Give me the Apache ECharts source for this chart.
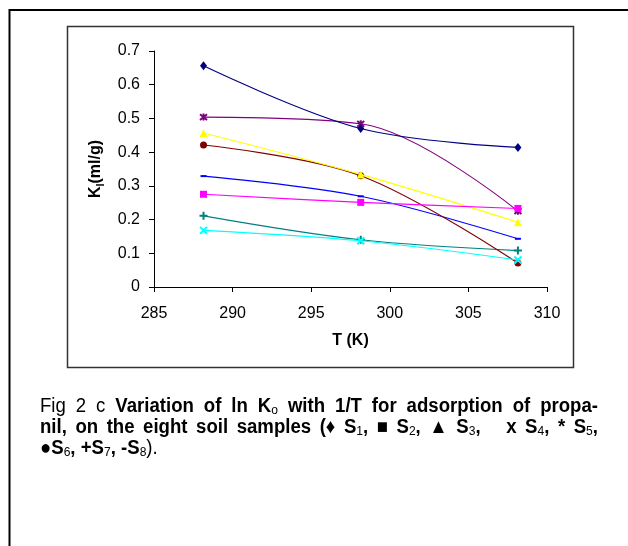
<!DOCTYPE html>
<html><head><meta charset="utf-8">
<script src="https://cdn.jsdelivr.net/npm/echarts@6/dist/echarts.min.js"></script>
<style>html,body{margin:0;padding:0;background:#fff}#c{width:628px;height:546px}</style>
</head><body><div id="c"></div>
<script>
// ---- data ----
const temperatures = [288.15, 298.15, 308.15];
const sampleNames = ['S1', 'S2', 'S3', 'S4', 'S5', 'S6', 'S7', 'S8'];
const S1 = [0.656, 0.470, 0.414];
const S2 = [0.275, 0.251, 0.233];
const S3 = [0.457, 0.334, 0.192];
const S4 = [0.168, 0.137, 0.080];
const S5 = [0.504, 0.484, 0.225];
const S6 = [0.421, 0.330, 0.071];
const S7 = [0.211, 0.140, 0.108];
const S8 = [0.329, 0.269, 0.143];
const xTickValues = [285, 290, 295, 300, 305, 310];
const yTickValues = [0, 0.1, 0.2, 0.3, 0.4, 0.5, 0.6, 0.7];
const sampleValues = [S1, S2, S3, S4, S5, S6, S7, S8];

// ---- styles ----
const FONT = "'Liberation Sans', Arial, 'DejaVu Sans', sans-serif";
const colors = ['#000080', '#FF00FF', '#FFFF00', '#00FFFF', '#800080', '#800000', '#008080', '#0000FF'];
const symbols = [
  {symbol: 'diamond', size: [7, 9]},
  {symbol: 'rect', size: 7},
  {symbol: 'triangle', size: 8},
  {symbol: 'path://M0,0L10,10M10,0L0,10', size: 7, stroke: true},
  {symbol: 'path://M0,0L10,10M10,0L0,10M5,-1L5,11', size: 7, stroke: true},
  {symbol: 'circle', size: 7},
  {symbol: 'path://M5,0L5,10M0,5L10,5', size: 8, stroke: true},
  {symbol: 'rect', size: [6, 2]}
];

const series = sampleNames.map((name, i) => {
  const s = symbols[i];
  return {
    name: name,
    type: 'line',
    smooth: 0.35,
    data: temperatures.map((t, j) => [t, sampleValues[i][j]]),
    symbol: s.symbol,
    symbolSize: s.size,
    showAllSymbol: true,
    lineStyle: {color: colors[i], width: 1.1},
    itemStyle: s.stroke
      ? {color: 'rgba(0,0,0,0)', borderColor: colors[i], borderWidth: 2}
      : {color: colors[i], borderWidth: 0},
    z: 10 - i
  };
});

// ---- caption (condensed + justified) ----
const cap = {
  n: {fontSize: 20, fontWeight: 'normal', lineHeight: 22},
  b: {fontSize: 20, fontWeight: 'bold', lineHeight: 22},
  s: {fontSize: 13, fontWeight: 'normal', lineHeight: 14, verticalAlign: 'bottom'}
};
const captionLines = [
  [['n', 'Fig 2 c '], ['b', 'Variation of ln K'], ['s', 'o'], ['b', ' with 1/T for adsorption of propa-']],
  [['b', 'nil, on the eight soil samples (\u2666 S'], ['s', '1'], ['b', ', \u25A0 S'], ['s', '2'], ['b', ', \u25B2 S'], ['s', '3'], ['b', ',   x S'], ['s', '4'], ['b', ', * S'], ['s', '5'], ['b', ',']],
  [['b', '\u25CFS'], ['s', '6'], ['b', ', +S'], ['s', '7'], ['b', ', -S'], ['s', '8'], ['n', ').']]
];
const justify = [true, true, false];
const condense = 0.93;
const mctx = document.createElement('canvas').getContext('2d');
function measure(k, t) {
  mctx.font = cap[k].fontWeight + ' ' + cap[k].fontSize + 'px ' + FONT;
  return mctx.measureText(t).width;
}
const capLeft = 40, capRight = 598;
const capY = [406, 427, 448];
const captionGraphics = captionLines.map((line, i) => {
  let total = 0, nSpaces = 0;
  line.forEach(([k, t]) => {
    total += measure(k, t);
    nSpaces += (t.match(/ /g) || []).length;
  });
  const extra = justify[i] && nSpaces ? Math.max(0, ((capRight - capLeft) / condense - total) / nSpaces) : 0;
  const rich = {};
  Object.entries(cap).forEach(([k, v]) => {
    rich[k] = Object.assign({fontFamily: FONT, fill: '#000'}, v);
    rich[k + 'g'] = Object.assign({fontFamily: FONT, fill: '#000'}, v, {width: measure(k, ' ') + extra});
  });
  let text = '';
  line.forEach(([k, t]) => {
    t.split(/( )/).forEach(part => {
      if (part === '') return;
      if (part === ' ') text += '{' + k + 'g| }';
      else text += '{' + k + '|' + part + '}';
    });
  });
  return {
    type: 'text',
    x: capLeft,
    y: capY[i],
    scaleX: condense,
    style: {text: text, rich: rich, fontFamily: FONT, fill: '#000', verticalAlign: 'middle', align: 'left'},
    silent: true
  };
});

const chart = echarts.init(document.getElementById('c'), null, {renderer: 'canvas'});
chart.setOption({
  animation: false,
  backgroundColor: '#fff',
  grid: {left: 154, top: 51, right: 81, bottom: 259, containLabel: false},
  xAxis: {
    type: 'value',
    min: xTickValues[0],
    max: xTickValues[xTickValues.length - 1],
    interval: xTickValues[1] - xTickValues[0],
    name: 'T (K)',
    nameLocation: 'middle',
    nameGap: 46,
    nameTextStyle: {fontFamily: FONT, fontSize: 16, fontWeight: 'bold', color: '#000'},
    axisLine: {lineStyle: {color: '#000', width: 1}},
    axisTick: {show: true, inside: false, length: 5, lineStyle: {color: '#000'}},
    axisLabel: {fontFamily: FONT, fontSize: 16, color: '#000', margin: 19},
    splitLine: {show: false}
  },
  yAxis: {
    type: 'value',
    min: yTickValues[0],
    max: yTickValues[yTickValues.length - 1],
    interval: 0.1,
    name: '{k|K}{s|l}{k|(ml/g)}',
    nameLocation: 'middle',
    nameGap: 48,
    nameTextStyle: {
      fontFamily: FONT, fontSize: 16, fontWeight: 'bold', color: '#000',
      rich: {
        k: {fontFamily: FONT, fontSize: 16, fontWeight: 'bold', color: '#000', lineHeight: 20},
        s: {fontFamily: FONT, fontSize: 11, fontWeight: 'bold', color: '#000', lineHeight: 12, verticalAlign: 'bottom'}
      }
    },
    axisLine: {show: true, lineStyle: {color: '#000', width: 1}},
    axisTick: {show: true, inside: false, length: 5, lineStyle: {color: '#000'}},
    axisLabel: {fontFamily: FONT, fontSize: 16, color: '#000', margin: 14,
      formatter: v => String(Math.round(v * 10) / 10)},
    splitLine: {show: false}
  },
  legend: {show: false},
  tooltip: {show: false},
  series: series,
  graphic: [
    {type: 'polyline', shape: {points: [[9.5, 546], [9.5, 10], [628, 10]]}, style: {stroke: '#000', lineWidth: 2, fill: null}, silent: true},
    {type: 'rect', shape: {x: 67.5, y: 26.5, width: 506, height: 341}, style: {stroke: '#333', lineWidth: 1.5, fill: null}, silent: true}
  ].concat(captionGraphics)
});
</script></body></html>
